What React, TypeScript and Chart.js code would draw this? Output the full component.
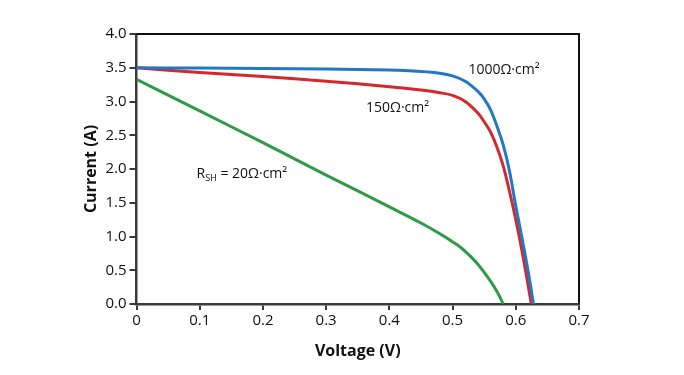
import React, { useEffect, useRef } from "react";
import { Chart, registerables } from "chart.js";

Chart.register(...registerables);

// ---- Data ----
const voltageBlue = [0, 0.1, 0.2, 0.3, 0.4, 0.45, 0.48, 0.5, 0.52, 0.54, 0.55, 0.56, 0.57, 0.58, 0.59, 0.6, 0.61, 0.62, 0.628];
const currentBlue = [3.5, 3.495, 3.49, 3.48, 3.465, 3.445, 3.42, 3.38, 3.3, 3.15, 3.04, 2.88, 2.64, 2.36, 1.97, 1.45, 0.97, 0.46, 0];

const voltageRed = [0, 0.1, 0.2, 0.3, 0.4, 0.45, 0.48, 0.5, 0.52, 0.54, 0.55, 0.56, 0.57, 0.58, 0.59, 0.6, 0.61, 0.62, 0.6245];
const currentRed = [3.5, 3.43, 3.37, 3.3, 3.22, 3.17, 3.13, 3.09, 3.0, 2.83, 2.7, 2.55, 2.33, 2.05, 1.67, 1.25, 0.78, 0.25, 0];

const voltageGreen = [0, 0.1, 0.2, 0.3, 0.4, 0.45, 0.48, 0.5, 0.51, 0.52, 0.53, 0.54, 0.55, 0.56, 0.57, 0.575, 0.58];
const currentGreen = [3.33, 2.86, 2.39, 1.91, 1.44, 1.2, 1.04, 0.92, 0.86, 0.78, 0.69, 0.59, 0.47, 0.34, 0.19, 0.1, 0];

const xTickValues = [0, 0.1, 0.2, 0.3, 0.4, 0.5, 0.6, 0.7];
const yTickValues = [0, 0.5, 1, 1.5, 2, 2.5, 3, 3.5, 4];

const xTitle = "Voltage (V)";
const yTitle = "Current (A)";

const FONT = "'Open Sans', 'DejaVu Sans', sans-serif";

const framePlugin = {
  id: "frame",
  afterDraw(chart: any) {
    const { ctx, chartArea } = chart;
    ctx.save();
    ctx.strokeStyle = "#111";
    ctx.lineWidth = 2;
    ctx.beginPath();
    ctx.moveTo(chartArea.left, chartArea.top);
    ctx.lineTo(chartArea.right, chartArea.top);
    ctx.lineTo(chartArea.right, chartArea.bottom);
    ctx.stroke();
    ctx.restore();
  },
};

const labelPlugin = {
  id: "curveLabels",
  afterDatasetsDraw(chart: any) {
    const { ctx } = chart;
    const xs = chart.scales.x;
    const ys = chart.scales.y;
    ctx.save();
    ctx.fillStyle = "#111";
    ctx.textBaseline = "alphabetic";
    ctx.textAlign = "left";
    ctx.font = `14px ${FONT}`;
    ctx.fillText("1000Ω·cm²", xs.getPixelForValue(0.525), ys.getPixelForValue(3.41));
    ctx.fillText("150Ω·cm²", xs.getPixelForValue(0.363), ys.getPixelForValue(2.84));
    const rx = xs.getPixelForValue(0.095);
    const ry = ys.getPixelForValue(1.87);
    ctx.fillText("R", rx, ry);
    const rw = ctx.measureText("R").width;
    ctx.font = `9px ${FONT}`;
    ctx.fillText("SH", rx + rw, ry + 3);
    const sw = ctx.measureText("SH").width;
    ctx.font = `14px ${FONT}`;
    ctx.fillText(" = 20Ω·cm²", rx + rw + sw, ry);
    ctx.restore();
  },
};

export default function App() {
  const ref = useRef<HTMLCanvasElement>(null);

  useEffect(() => {
    const toPts = (xs: number[], ys: number[]) => xs.map((x, i) => ({ x, y: ys[i] }));
    const lineStyle = { borderWidth: 3, tension: 0.35, pointRadius: 0, fill: false };
    const chart = new Chart(ref.current!, {
      type: "line",
      data: {
        datasets: [
          { data: toPts(voltageBlue, currentBlue), borderColor: "#2278c4", ...lineStyle },
          { data: toPts(voltageRed, currentRed), borderColor: "#d5272c", ...lineStyle },
          { data: toPts(voltageGreen, currentGreen), borderColor: "#2f9a48", ...lineStyle },
        ],
      },
      options: {
        animation: false,
        responsive: false,
        maintainAspectRatio: false,
        layout: { padding: { left: 0, right: 105, top: 34, bottom: 0 } },
        plugins: { legend: { display: false }, tooltip: { enabled: false } },
        scales: {
          x: {
            type: "linear",
            min: 0,
            max: 0.7,
            afterBuildTicks: (s: any) => {
              s.ticks = xTickValues.map((v) => ({ value: v }));
            },
            afterFit: (s: any) => {
              s.height = 71;
            },
            ticks: {
              color: "#111",
              font: { family: FONT, size: 15 },
              padding: 2,
              maxRotation: 0,
              callback: (v: any) => (Number(v) === 0 ? "0" : Number(v).toFixed(1)),
            },
            grid: { drawOnChartArea: false, tickLength: 6, color: "#3a3a3a", lineWidth: 2 },
            border: { color: "#3a3a3a", width: 2.5 },
            title: {
              display: true,
              text: xTitle,
              color: "#111",
              font: { family: FONT, size: 16, weight: "bold" },
              padding: { top: 0, bottom: 14 },
            },
          },
          y: {
            type: "linear",
            min: 0,
            max: 4,
            afterBuildTicks: (s: any) => {
              s.ticks = yTickValues.map((v) => ({ value: v }));
            },
            afterFit: (s: any) => {
              s.width = 136.5;
            },
            ticks: {
              color: "#111",
              font: { family: FONT, size: 15 },
              padding: 3,
              callback: (v: any) => Number(v).toFixed(1),
            },
            grid: { drawOnChartArea: false, tickLength: 7, color: "#3a3a3a", lineWidth: 2 },
            border: { color: "#3a3a3a", width: 2.5 },
            title: {
              display: true,
              text: yTitle,
              color: "#111",
              font: { family: FONT, size: 16, weight: "bold" },
              padding: { top: 82, bottom: 0 },
            },
          },
        },
      } as any,
      plugins: [framePlugin, labelPlugin],
    });
    return () => chart.destroy();
  }, []);

  return (
    <div style={{ position: "fixed", left: 0, top: 0, width: 684, height: 375, background: "#fff" }}>
      <canvas ref={ref} width={684} height={375} style={{ display: "block" }} />
    </div>
  );
}
